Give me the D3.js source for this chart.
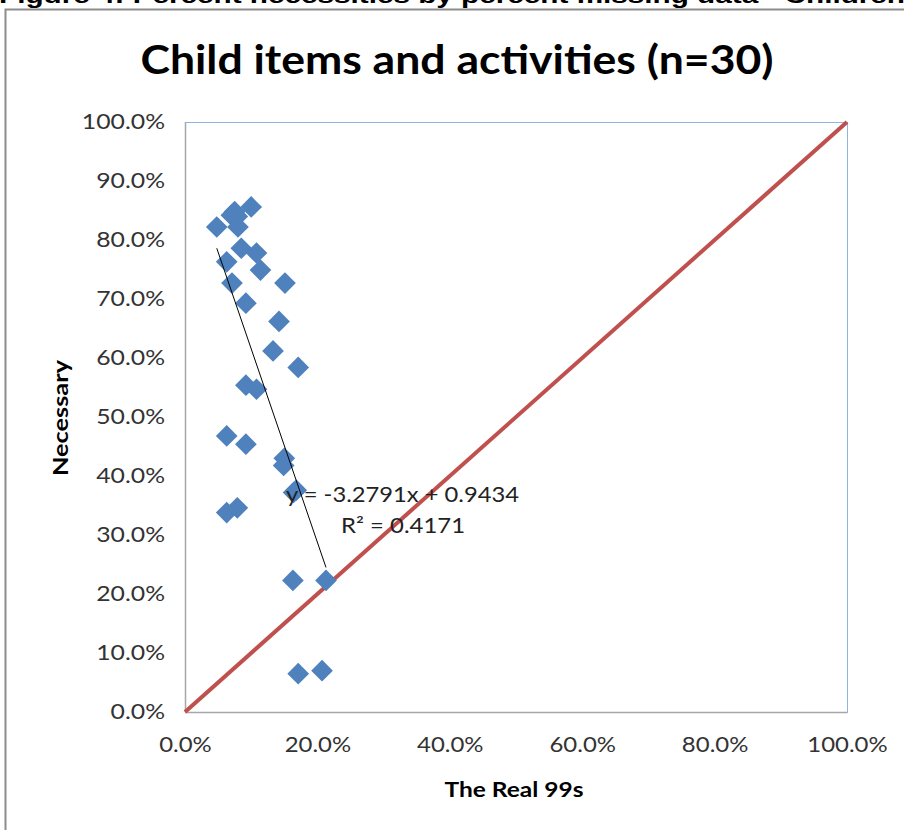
<!DOCTYPE html>
<html>
<head>
<meta charset="utf-8">
<script src="https://cdn.jsdelivr.net/npm/d3@7/dist/d3.min.js"></script>
<style>
  html, body { margin: 0; padding: 0; background: #fff; overflow: hidden; }
  svg { display: block; }
</style>
</head>
<body>
<svg id="chart" width="904" height="830"></svg>
<script>
// ---- data (fractions) ----
const real99s = [0.048, 0.070, 0.079, 0.100, 0.080, 0.085, 0.108, 0.063, 0.114, 0.071,
                 0.151, 0.092, 0.142, 0.133, 0.171, 0.092, 0.108, 0.063, 0.092, 0.150,
                 0.149, 0.168, 0.164, 0.063, 0.079, 0.163, 0.213, 0.171, 0.207, 0.075];
const necessary = [0.822, 0.842, 0.840, 0.856, 0.822, 0.786, 0.778, 0.763, 0.749, 0.727,
                   0.727, 0.693, 0.662, 0.612, 0.584, 0.554, 0.547, 0.468, 0.454, 0.430,
                   0.418, 0.376, 0.372, 0.338, 0.346, 0.223, 0.223, 0.065, 0.070, 0.848];
const xTicks = [0, 0.2, 0.4, 0.6, 0.8, 1.0];
const yTicks = [0, 0.1, 0.2, 0.3, 0.4, 0.5, 0.6, 0.7, 0.8, 0.9, 1.0];
const trendSlope = -3.2791;
const trendIntercept = 0.9434;
const trendLabel = "y = -3.2791x + 0.9434";
const r2Label = "R\u00B2 = 0.4171";
const titleText = "Child items and activities (n=30)";
const figureCaption = "Figure 4: Percent necessities by percent missing data - Children";
const xTitle = "The Real 99s";
const yTitle = "Necessary";

// ---- layout ----
const svg = d3.select("#chart");
const plot = { left: 185, right: 847, top: 122, bottom: 712 };
const x = d3.scaleLinear().domain([0, 1]).range([plot.left, plot.right]);
const y = d3.scaleLinear().domain([0, 1]).range([plot.bottom, plot.top]);
const fmt = d3.format(".1%");
const font = "Lato, 'Open Sans', sans-serif";

// widen text horizontally (reference glyphs are stretched)
function stretch(sel, factor) {
  sel.each(function () {
    const w = this.getComputedTextLength();
    d3.select(this).attr("textLength", w * factor).attr("lengthAdjust", "spacingAndGlyphs");
  });
}

// caption (cut off at the top)
svg.append("text")
  .attr("x", -1).attr("y", 3)
  .attr("textLength", 906).attr("lengthAdjust", "spacingAndGlyphs")
  .style("font-family", "'Liberation Sans', Arial, sans-serif")
  .style("font-weight", "bold").style("font-size", "22px")
  .attr("fill", "#000").text(figureCaption);

// outer chart frame
svg.append("rect")
  .attr("x", 5.5).attr("y", 9.5).attr("width", 920).attr("height", 840)
  .attr("fill", "none").attr("stroke", "#8c8c8c").attr("stroke-width", 2);

// title
svg.append("text")
  .attr("x", 457).attr("y", 74)
  .attr("text-anchor", "middle")
  .attr("textLength", 633).attr("lengthAdjust", "spacingAndGlyphs")
  .style("font-family", font).style("font-weight", "bold").style("font-size", "40px")
  .attr("fill", "#000").text(titleText);

// plot border
svg.append("rect")
  .attr("x", plot.left + 0.5).attr("y", plot.top + 0.5)
  .attr("width", plot.right - plot.left).attr("height", plot.bottom - plot.top)
  .attr("fill", "none").attr("stroke", "#8eb4e3").attr("stroke-width", 1);
svg.append("line")
  .attr("x1", plot.left).attr("x2", plot.right)
  .attr("y1", plot.bottom + 0.5).attr("y2", plot.bottom + 0.5)
  .attr("stroke", "#a6a6a6").attr("stroke-width", 1.5);
svg.append("line")
  .attr("x1", plot.left + 0.5).attr("x2", plot.left + 0.5)
  .attr("y1", plot.top).attr("y2", plot.bottom)
  .attr("stroke", "#a6a6a6").attr("stroke-width", 1.5);

// axes (labels only)
const yAxis = d3.axisLeft(y).tickValues(yTicks).tickFormat(fmt).tickSize(0).tickPadding(20);
const gy = svg.append("g").attr("transform", `translate(${plot.left},0)`).call(yAxis);
gy.select(".domain").remove();
gy.selectAll("text").style("font-family", font).style("font-size", "21px").attr("fill", "#333")
  .call(stretch, 1.18);

const xAxis = d3.axisBottom(x).tickValues(xTicks).tickFormat(fmt).tickSize(0).tickPadding(25);
const gx = svg.append("g").attr("transform", `translate(0,${plot.bottom})`).call(xAxis);
gx.select(".domain").remove();
gx.selectAll("text").style("font-family", font).style("font-size", "21px").attr("fill", "#333")
  .call(stretch, 1.14);

// axis titles
svg.append("text")
  .attr("x", 514).attr("y", 797).attr("text-anchor", "middle")
  .attr("textLength", 139).attr("lengthAdjust", "spacingAndGlyphs")
  .style("font-family", font).style("font-weight", "bold").style("font-size", "21px")
  .attr("fill", "#000").text(xTitle);
svg.append("text")
  .attr("transform", "translate(68,418) rotate(-90)").attr("text-anchor", "middle")
  .attr("textLength", 116).attr("lengthAdjust", "spacingAndGlyphs")
  .style("font-family", font).style("font-weight", "bold").style("font-size", "21px")
  .attr("fill", "#000").text(yTitle);

// diagonal reference line
svg.append("line")
  .attr("x1", x(0)).attr("y1", y(0)).attr("x2", x(1)).attr("y2", y(1))
  .attr("stroke", "#c0504d").attr("stroke-width", 4);

// points
const pts = real99s.map((v, i) => ({ x: v, y: necessary[i] }));
svg.append("g").selectAll("path").data(pts).join("path")
  .attr("d", d3.symbol().type(d3.symbolDiamond2).size(300))
  .attr("transform", d => `translate(${x(d.x)},${y(d.y)})`)
  .attr("fill", "#4f81bd");

// trend line from min to max x
const xmin = d3.min(real99s), xmax = d3.max(real99s);
svg.append("line")
  .attr("x1", x(xmin)).attr("y1", y(trendSlope * xmin + trendIntercept))
  .attr("x2", x(xmax)).attr("y2", y(trendSlope * xmax + trendIntercept))
  .attr("stroke", "#000").attr("stroke-width", 1);

// trend labels
svg.append("text")
  .attr("x", 286).attr("y", 502)
  .attr("textLength", 233).attr("lengthAdjust", "spacingAndGlyphs")
  .style("font-family", font).style("font-size", "21px").attr("fill", "#222")
  .text(trendLabel);
svg.append("text")
  .attr("x", 341).attr("y", 533)
  .attr("textLength", 124).attr("lengthAdjust", "spacingAndGlyphs")
  .style("font-family", font).style("font-size", "21px").attr("fill", "#222")
  .text(r2Label);
</script>
</body>
</html>
